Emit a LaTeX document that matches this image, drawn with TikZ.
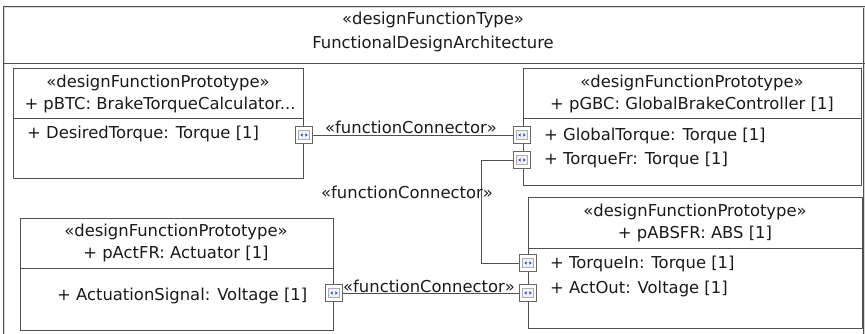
\documentclass[tikz,border=0pt]{standalone}
\usepackage{fontspec}
\setmainfont{DejaVu Sans}
\definecolor{edge}{HTML}{505050}
\definecolor{ink}{HTML}{1A1A1A}
\definecolor{portedge}{HTML}{666666}
\definecolor{portinner}{HTML}{AFAFAF}
\definecolor{portfill}{HTML}{EEF1F8}
\definecolor{portblue}{HTML}{2F3FD0}
\tikzset{
  outerframe/.style={draw=edge, line width=0.6pt, double=white!70!gray, double distance=0.8pt},
  protobox/.style={draw=edge, line width=1pt, inner sep=0pt, anchor=north west},
  sepline/.style={draw=edge, line width=1pt},
  label/.style={text=ink, inner sep=0pt, font=\fontsize{16.4}{18}\selectfont},
  conn/.style={draw=edge, line width=1pt},
  port/.style={draw=portedge, fill=white, line width=0.9pt, minimum size=17pt, inner sep=0pt,
    path picture={
      \draw[portinner, fill=portfill, line width=0.6pt]
        ([shift={(-5.5,-4.5)}]path picture bounding box.center) rectangle
        ([shift={(5.5,4.5)}]path picture bounding box.center);
      \fill[portblue]
        ([shift={(-3.6,0)}]path picture bounding box.center) -- ++(2.2,-1.6) -- ++(0,3.2) -- cycle
        ([shift={(3.6,0)}]path picture bounding box.center) -- ++(-2.2,-1.6) -- ++(0,3.2) -- cycle;
    }},
}
\begin{document}
\begin{tikzpicture}[x=1pt,y=-1pt]
\useasboundingbox (0,0) rectangle (865,333);

% enclosing design function type
\node[protobox, outerframe, minimum width=860pt, minimum height=345pt] (arch) at (4,7) {};
\draw[sepline] (arch.west |- 0,63) -- (arch.east |- 0,63);
\node[label] (archst) at (433,20) {«designFunctionType»};
\node[label] (archnm) at (433,44) {FunctionalDesignArchitecture};

% pBTC
\node[protobox, minimum width=290pt, minimum height=110pt] (btc) at (13,68) {};
\draw[sepline] (btc.west |- 0,118) -- (btc.east |- 0,118);
\node[label] (btcst) at (158,83) {«designFunctionPrototype»};
\node[label] (btcnm) at (160,105) {+ pBTC: BrakeTorqueCalculator...};
\node[label, anchor=west] (btca) at (27,134) {+ DesiredTorque: Torque [1]};

% pGBC
\node[protobox, minimum width=338pt, minimum height=117pt] (gbc) at (523,68) {};
\draw[sepline] (gbc.west |- 0,118) -- (gbc.east |- 0,118);
\node[label] (gbcst) at (692,83) {«designFunctionPrototype»};
\node[label] (gbcnm) at (692,105) {+ pGBC: GlobalBrakeController [1]};
\node[label, anchor=west] (gbca) at (544,136) {+ GlobalTorque: Torque [1]};
\node[label, anchor=west] (gbcb) at (544,160) {+ TorqueFr: Torque [1]};

% pActFR
\node[protobox, minimum width=313pt, minimum height=112pt] (act) at (20,218) {};
\draw[sepline] (act.west |- 0,268) -- (act.east |- 0,268);
\node[label] (actst) at (176,232) {«designFunctionPrototype»};
\node[label] (actnm) at (176,254) {+ pActFR: Actuator [1]};
\node[label, anchor=west] (acta) at (57,296) {+ ActuationSignal: Voltage [1]};

% pABSFR
\node[protobox, minimum width=334pt, minimum height=131pt] (abs) at (528,197) {};
\draw[sepline] (abs.west |- 0,248) -- (abs.east |- 0,248);
\node[label] (absst) at (695,212) {«designFunctionPrototype»};
\node[label] (absnm) at (695,234) {+ pABSFR: ABS [1]};
\node[label, anchor=west] (absa) at (550,264) {+ TorqueIn: Torque [1]};
\node[label, anchor=west] (absb) at (550,289) {+ ActOut: Voltage [1]};

% ports
\node[port] (btcout) at (304,135) {};
\node[port] (gbcin)  at (522,135) {};
\node[port] (gbcfr)  at (522,160) {};
\node[port] (absin)  at (528,263) {};
\node[port] (absout) at (528,293) {};
\node[port] (actout) at (334,293) {};

% function connectors
\coordinate (bend) at (481,160);
\draw[conn] (btcout) -- (gbcin);
\draw[conn] (gbcfr) -- (bend) |- (absin);
\draw[conn] (actout) -- (absout);
\node[label] (c1) at (411,127) {«functionConnector»};
\node[label] (c2) at (407,192) {«functionConnector»};
\node[label] (c3) at (429,286) {«functionConnector»};
\end{tikzpicture}
\end{document}
